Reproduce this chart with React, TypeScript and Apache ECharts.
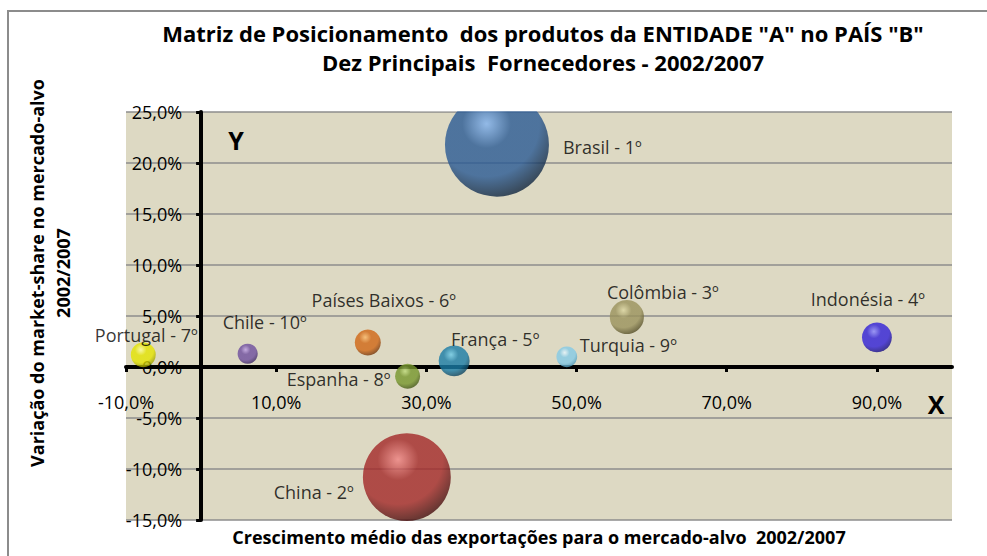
import React, { useEffect, useRef } from "react";
import * as echarts from "echarts";

// ---- Data ----
const countries = [
  "Brasil - 1º",
  "China - 2º",
  "Colômbia - 3º",
  "Indonésia - 4º",
  "França - 5º",
  "Países Baixos - 6º",
  "Portugal - 7º",
  "Espanha - 8º",
  "Turquia - 9º",
  "Chile - 10º",
];
// X: average export growth to target market 2002/2007 (%)
const exportGrowth = [39.4, 27.4, 56.7, 90.0, 33.7, 22.2, -7.7, 27.5, 48.7, 6.2];
// Y: change of market-share 2002/2007 (%)
const shareChange = [21.8, -10.8, 4.9, 2.9, 0.6, 2.4, 1.2, -0.9, 1.0, 1.3];
// Bubble size: market share (estimated)
const marketShare = [40, 28.6, 4.3, 3.3, 3.55, 2.5, 2.3, 2.3, 1.6, 1.5];

const xTickMin = -10;
const xTickMax = 100;
const xTickStep = 20;
const yTickMin = -15;
const yTickMax = 25;
const yTickStep = 5;

// ---- Styles / layout ----
const sphereColors: [string, string, string][] = [
  ["#80b2f0", "#2a5a94", "#071526"], // Brasil
  ["#f08282", "#a32828", "#2a0505"], // China
  ["#dcd6a0", "#9a925c", "#3e3815"], // Colômbia
  ["#8a86ff", "#3120d8", "#0c0566"], // Indonésia
  ["#6ccbea", "#1a7ca6", "#072e44"], // França
  ["#fbb868", "#d06614", "#562405"], // Países Baixos
  ["#ffffa0", "#e4e400", "#848400"], // Portugal
  ["#c0dc7c", "#76962c", "#30400a"], // Espanha
  ["#eaf8ff", "#84cae6", "#3a88aa"], // Turquia
  ["#bea0e6", "#6e4e9e", "#2a184c"], // Chile
];
// label position relative to the bubble centre
const labelPlacement: { align: string; dx: number; dy: number }[] = [
  { align: "left", dx: 66, dy: 2 },
  { align: "right", dx: -53, dy: 15 },
  { align: "center", dx: 36, dy: -25 },
  { align: "center", dx: -9, dy: -38 },
  { align: "center", dx: 41, dy: -22 },
  { align: "center", dx: 16, dy: -43 },
  { align: "center", dx: 3, dy: -20 },
  { align: "right", dx: -17, dy: 3 },
  { align: "left", dx: 13, dy: -12 },
  { align: "center", dx: 17, dy: -32 },
];

const FONT = "Open Sans";
const GRID = { left: 126, right: 35, top: 112, bottom: 36 };
const W = 987;
const H = 556;

const pct = (v: number) => v.toFixed(1).replace(".", ",") + "%";

export default function App() {
  const ref = useRef<HTMLDivElement>(null);
  useEffect(() => {
    document.body.style.margin = "0";
    if (!ref.current) return;
    const chart = echarts.init(ref.current, null, { renderer: "svg" });

    const gridW = W - GRID.left - GRID.right;
    const gridH = H - GRID.top - GRID.bottom;
    // shift the axes so they cross at (0, 0)
    const xAxisOffset = -gridH * ((0 - yTickMin) / (yTickMax - yTickMin));
    const yAxisOffset = -gridW * ((0 - xTickMin) / (xTickMax - xTickMin));

    const data = countries.map((name, i) => ({
      name,
      value: [exportGrowth[i], shareChange[i], marketShare[i]],
      itemStyle: {
        color: {
          type: "radial",
          x: 0.4,
          y: 0.3,
          r: 0.78,
          colorStops: [
            { offset: 0, color: sphereColors[i][0] },
            { offset: 0.3, color: sphereColors[i][1] },
            { offset: 0.65, color: sphereColors[i][1] },
            { offset: 1, color: sphereColors[i][2] },
          ],
        },
      },
    }));

    chart.setOption({
      animation: false,
      textStyle: { fontFamily: FONT },
      grid: {
        ...GRID,
        show: true,
        backgroundColor: "#ddd9c3",
        borderWidth: 0,
        containLabel: false,
        outerBoundsMode: "none",
      },
      xAxis: {
        type: "value",
        position: "bottom",
        offset: xAxisOffset,
        min: xTickMin,
        max: xTickMax,
        interval: xTickStep,
        axisLine: { onZero: false, lineStyle: { color: "#000", width: 4 } },
        axisTick: { show: true, length: 5, lineStyle: { color: "#000", width: 3 } },
        axisLabel: {
          margin: 26,
          formatter: (v: number) => pct(v),
          showMaxLabel: false,
          color: "#000",
          fontFamily: FONT,
          fontSize: 18,
        },
        splitLine: { show: false },
      },
      yAxis: {
        type: "value",
        position: "left",
        offset: yAxisOffset,
        min: yTickMin,
        max: yTickMax,
        interval: yTickStep,
        axisLine: { onZero: false, lineStyle: { color: "#000", width: 4 } },
        axisTick: { show: true, length: 5, lineStyle: { color: "#000", width: 3 } },
        axisLabel: {
          margin: 19,
          formatter: (v: number) => pct(v),
          color: "#000",
          fontFamily: FONT,
          fontSize: 18,
        },
        splitLine: { show: true, lineStyle: { color: "#8c8c8c", width: 1.5 } },
      },
      series: [
        {
          type: "scatter",
          data,
          symbolSize: (v: number[]) => 16.44 * Math.sqrt(v[2]),
          label: {
            show: true,
            position: "top",
            formatter: "{b}",
            color: "#000",
            textBorderWidth: 0,
            fontFamily: FONT,
            fontSize: 18,
          },
          labelLayout: (params: any) => {
            const p = labelPlacement[params.dataIndex];
            const r = params.rect;
            return {
              x: r.x + r.width / 2 + p.dx,
              y: r.y + r.height / 2 + p.dy,
              align: p.align,
              verticalAlign: "middle",
              hideOverlap: false,
            };
          },
        },
      ],
      graphic: [
        {
          type: "rect",
          z: -10,
          shape: { x: 8, y: 11, width: 1000, height: 600 },
          style: { fill: "none", stroke: "#8c8c8c", lineWidth: 2 },
          silent: true,
        },
        {
          type: "rect",
          z: 100,
          shape: { x: 410, y: 84, width: 180, height: 27.2 },
          style: { fill: "#ffffff" },
          silent: true,
        },
        {
          type: "text",
          x: 543,
          y: 33,
          style: {
            text: 'Matriz de Posicionamento  dos produtos da ENTIDADE "A" no PAÍS "B"',
            font: `bold 22px "${FONT}"`,
            fill: "#000",
            align: "center",
            verticalAlign: "middle",
          },
        },
        {
          type: "text",
          x: 543,
          y: 62,
          style: {
            text: "Dez Principais  Fornecedores - 2002/2007",
            font: `bold 22px "${FONT}"`,
            fill: "#000",
            align: "center",
            verticalAlign: "middle",
          },
        },
        {
          type: "text",
          x: 50,
          y: 273,
          rotation: Math.PI / 2,
          style: {
            text: "Variação do market-share no mercado-alvo\n2002/2007",
            font: `bold 18px "${FONT}"`,
            lineHeight: 26,
            fill: "#000",
            align: "center",
            verticalAlign: "middle",
          },
        },
        {
          type: "text",
          x: 539,
          y: 537,
          style: {
            text: "Crescimento médio das exportações para o mercado-alvo  2002/2007",
            font: `bold 18px "${FONT}"`,
            fill: "#000",
            align: "center",
            verticalAlign: "middle",
          },
        },
        {
          type: "text",
          x: 236,
          y: 140,
          style: {
            text: "Y",
            font: `bold 25px "${FONT}"`,
            fill: "#000",
            align: "center",
            verticalAlign: "middle",
          },
        },
        {
          type: "text",
          x: 936,
          y: 404,
          style: {
            text: "X",
            font: `bold 25px "${FONT}"`,
            fill: "#000",
            align: "center",
            verticalAlign: "middle",
          },
        },
      ],
    });
    return () => chart.dispose();
  }, []);
  return (
    <div
      ref={ref}
      style={{ position: "absolute", left: 0, top: 0, width: W, height: H, background: "#fff" }}
    />
  );
}
